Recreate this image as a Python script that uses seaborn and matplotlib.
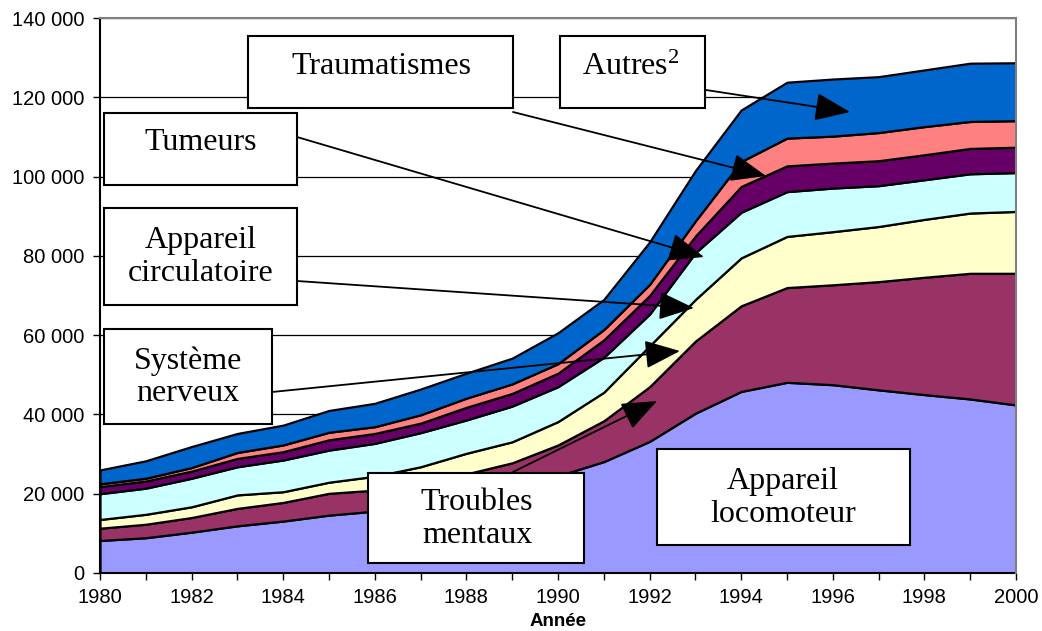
import matplotlib
matplotlib.use("Agg")
import matplotlib.pyplot as plt
import numpy as np
import seaborn as sns
from matplotlib.patches import Rectangle, FancyArrowPatch
from matplotlib.ticker import FuncFormatter

# ---------------------------------------------------------------------------
# Data (number of cases per year)
# ---------------------------------------------------------------------------
years = list(range(1980, 2001))

locomoteur = [8200, 8900, 10300, 11900, 13100, 14600, 15600, 16800, 18500, 21000, 24500,
              28100, 33200, 40300, 45800, 48100, 47500, 46200, 45000, 43900, 42400]
mentaux = [3100, 3400, 3700, 4400, 4700, 5500, 5300, 5700, 6500, 6800, 7800,
           10300, 13800, 18200, 21600, 23900, 25200, 27300, 29600, 31700, 33200]
nerveux = [2200, 2500, 2700, 3400, 2700, 2800, 3500, 4300, 5200, 5300, 5900,
           7200, 10300, 10500, 12100, 12900, 13400, 13900, 14600, 15200, 15600]
circulatoire = [6500, 6600, 7200, 7100, 8000, 8100, 8300, 8600, 8400, 9000, 8800,
                8800, 8000, 11800, 11500, 11300, 11000, 10300, 10000, 9900, 9800]
tumeurs = [1800, 1800, 1800, 2100, 2100, 2600, 2500, 2400, 3200, 3200, 3400,
           4400, 4700, 4200, 6500, 6500, 6300, 6300, 6300, 6400, 6400]
traumatismes = [700, 700, 900, 1500, 1700, 1900, 1700, 2100, 2300, 2400, 2400,
                2600, 2800, 3800, 6300, 7000, 6800, 7100, 7100, 6800, 6700]
autres = [3500, 4400, 5300, 4800, 5000, 5500, 5900, 6500, 6300, 6500, 7800,
          7600, 10700, 12700, 13000, 14100, 14400, 14100, 14300, 14700, 14600]

series = [locomoteur, mentaux, nerveux, circulatoire, tumeurs, traumatismes, autres]
colours = ["#9999FF", "#993366", "#FFFFCC", "#CCFFFF", "#660066", "#FF8080", "#0066CC"]

y_ticks = list(range(0, 140001, 20000))

W, H = 1042, 631


def px(x, y):
    """pixel position (from top-left) -> figure fraction"""
    return x / W, 1 - y / H


# label boxes: (x0, y0, x1, y1) in pixels, text, text centre
boxes = [
    ((248, 36, 513, 108), "Traumatismes", (381, 66)),
    ((560, 36, 705, 108), "Autres$^{2}$", (631, 67)),
    ((104, 113, 297, 185), "Tumeurs", (201, 143)),
    ((104, 208, 297, 305), "Appareil\ncirculatoire", (201, 257)),
    ((104, 329, 272, 424), "Système\nnerveux", (188, 377)),
    ((368, 473, 584, 563), "Troubles\nmentaux", (477, 519)),
    ((657, 449, 910, 545), "Appareil\nlocomoteur", (783, 498)),
]

# arrows: start, tip (pixels)
arrows = [
    ((706, 90), (850, 112)),
    ((513, 112), (766, 176)),
    ((297, 137), (704, 257)),
    ((297, 281), (694, 308)),
    ((272, 392), (680, 351)),
    ((513, 472), (657, 401)),
]

# ---------------------------------------------------------------------------
# Plot
# ---------------------------------------------------------------------------
sns.set_theme(style="white")
plt.rcParams["font.family"] = ["Liberation Sans", "DejaVu Sans"]
plt.rcParams["text.color"] = "black"
plt.rcParams["mathtext.fontset"] = "custom"
plt.rcParams["mathtext.rm"] = "Liberation Serif"
plt.rcParams["mathtext.it"] = "Liberation Serif:italic"
plt.rcParams["mathtext.bf"] = "Liberation Serif:bold"

fig = plt.figure(figsize=(W / 100, H / 100), dpi=100)
ax = fig.add_axes([100 / W, 1 - 573 / H, 916 / W, 555 / H])

ax.stackplot(years, *series, colors=colours, edgecolor="black", linewidth=1.6, zorder=2)

ax.set_xlim(1980, 2000)
ax.set_ylim(0, 140000)
ax.set_xticks(years)
ax.set_xticklabels([str(y) if y % 2 == 0 else "" for y in years])
ax.set_yticks(y_ticks)
ax.yaxis.set_major_formatter(FuncFormatter(lambda v, p: f"{int(v):,}".replace(",", " ")))
ax.tick_params(axis="both", direction="out", length=5, width=1, color="black",
               labelsize=14.5, labelcolor="black", pad=6, left=True, bottom=True)

ax.grid(axis="y", color="black", linewidth=0.9)
ax.grid(axis="x", visible=False)
ax.set_axisbelow(True)

for side in ["left", "bottom"]:
    ax.spines[side].set_color("black")
    ax.spines[side].set_linewidth(1.5)
for side in ["top", "right"]:
    ax.spines[side].set_color("#808080")
    ax.spines[side].set_linewidth(1.5)
    ax.spines[side].set_zorder(3)

fig.text(558 / W, 1 - 622 / H, "Année", ha="center", va="center",
         fontsize=13.5, fontweight="bold", color="black")

serif = ["Liberation Serif", "DejaVu Serif"]

for (x0, y0, x1, y1), label, centre in boxes:
    fx0, fy1 = px(x0, y1)
    fx1, fy0 = px(x1, y0)
    fig.add_artist(Rectangle((fx0, fy1), fx1 - fx0, fy0 - fy1, transform=fig.transFigure,
                             facecolor="white", edgecolor="black", linewidth=1.5, zorder=5))
    fig.text(*px(*centre), label, ha="center", va="center", fontsize=23, color="black",
             family=serif, linespacing=1.15, zorder=6)

for start, tip in arrows:
    fig.add_artist(FancyArrowPatch(px(*start), px(*tip), transform=fig.transFigure,
                                   arrowstyle="-|>,head_length=1.0,head_width=0.4",
                                   mutation_scale=22, color="black", linewidth=1.3,
                                   shrinkA=0, shrinkB=0, zorder=7))

fig.savefig("out.png", dpi=100)
